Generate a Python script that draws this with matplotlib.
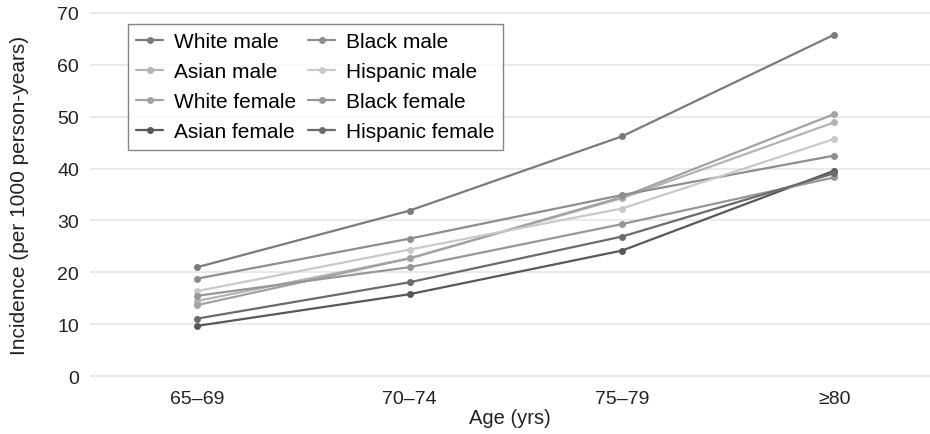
import matplotlib
matplotlib.use('Agg')
import matplotlib.pyplot as plt
import numpy as np

plt.rcParams['font.family'] = ['Liberation Sans', 'DejaVu Sans']

# Data
age_groups = ['65\u201369', '70\u201374', '75\u201379', '\u226580']

white_male = [21.0, 31.9, 46.2, 65.8]
black_male = [18.8, 26.5, 34.9, 42.5]
asian_male = [14.5, 22.7, 34.3, 48.9]
hispanic_male = [16.4, 24.4, 32.3, 45.7]
white_female = [13.7, 22.7, 34.5, 50.5]
black_female = [15.5, 21.0, 29.3, 38.3]
asian_female = [9.7, 15.8, 24.2, 39.6]
hispanic_female = [11.1, 18.1, 26.9, 39.1]

# legend order (column-major, 2 columns)
series = [
    ('White male', white_male, '#7b7b7b'),
    ('Asian male', asian_male, '#b4b4b4'),
    ('White female', white_female, '#a2a2a2'),
    ('Asian female', asian_female, '#585858'),
    ('Black male', black_male, '#8e8e8e'),
    ('Hispanic male', hispanic_male, '#c9c9c9'),
    ('Black female', black_female, '#979797'),
    ('Hispanic female', hispanic_female, '#6b6b6b'),
]

fig = plt.figure(figsize=(9.3, 4.35), dpi=100)
ax = fig.add_axes([90 / 930, 1 - 385 / 435, 840 / 930, 379 / 435])

x = np.arange(len(age_groups))
for name, vals, col in series:
    ax.plot(x, vals, color=col, lw=1.6, marker='o', ms=4, label=name,
            solid_capstyle='round')

ax.set_xlim(-0.505, 3.45)
ax.set_ylim(-1.5, 71.5)
ax.set_yticks(range(0, 71, 10))
ax.set_xticks(x)
ax.set_xticklabels(age_groups)
ax.tick_params(axis='both', length=0, labelsize=14, colors='#222222')
ax.tick_params(axis='y', pad=8)
ax.tick_params(axis='x', pad=4)
ax.grid(axis='y', color='#e6e6e6', lw=1.2)
ax.set_axisbelow(True)
for s in ax.spines.values():
    s.set_visible(False)

ax.set_xlabel('Age (yrs)', fontsize=14.5, color='#222222', labelpad=1)
ax.set_ylabel('Incidence (per 1000 person-years)', fontsize=15,
              color='#222222', labelpad=20)

leg = ax.legend(ncol=2, loc='upper left', bbox_to_anchor=(0.045, 0.95),
                fontsize=15, frameon=True, fancybox=False,
                handlelength=1.3, handletextpad=0.5, columnspacing=0.6,
                labelspacing=0.53, borderpad=0.4, borderaxespad=0)
leg.get_frame().set_edgecolor('#666666')
leg.get_frame().set_linewidth(1.0)

fig.savefig('out.png', dpi=100, facecolor='white')
